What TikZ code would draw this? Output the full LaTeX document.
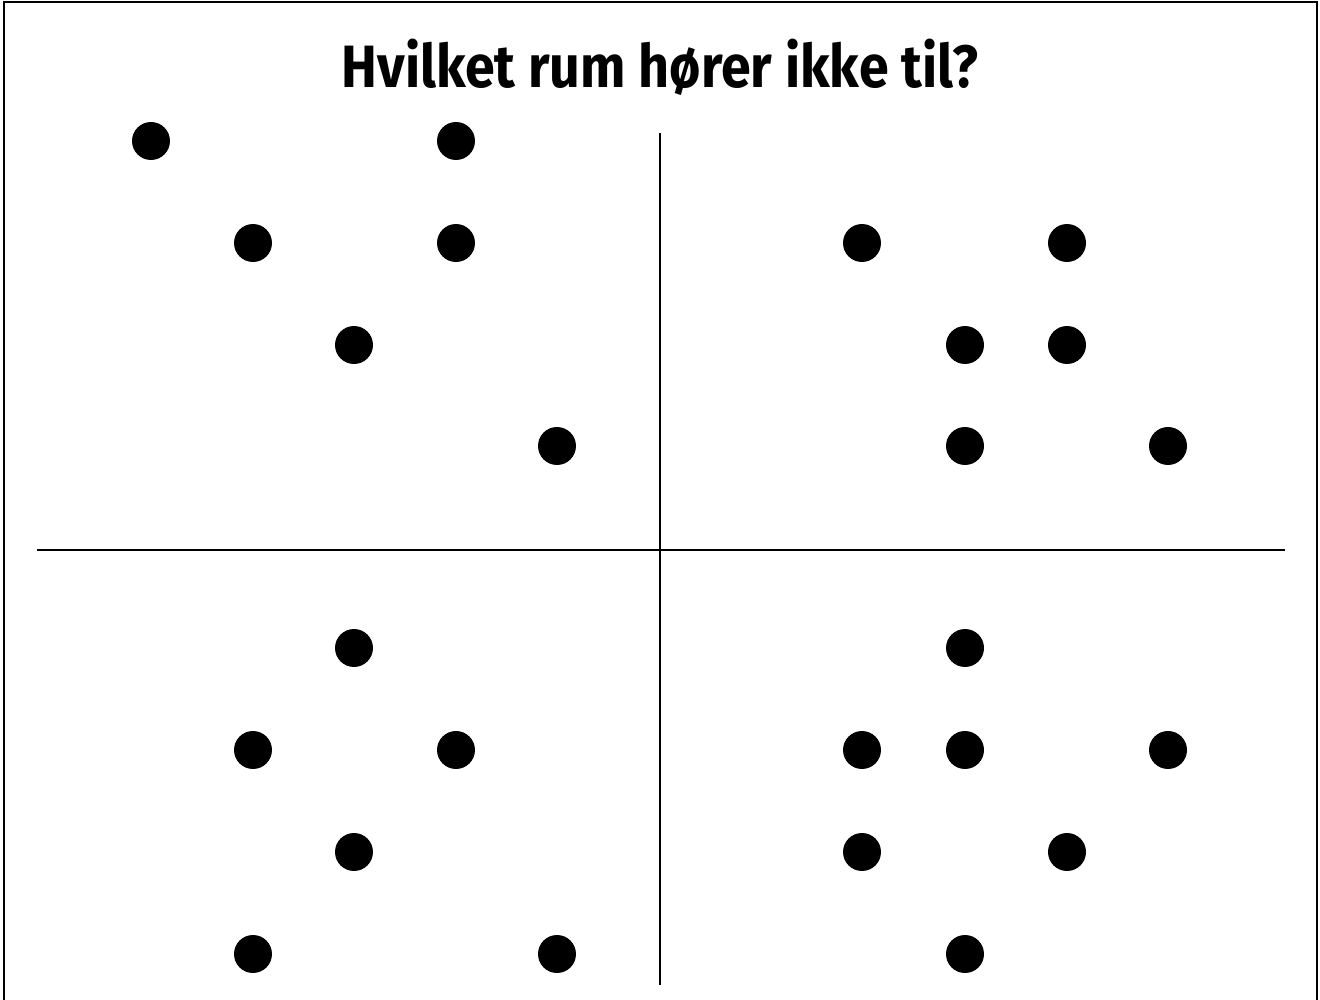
\documentclass[tikz,border=0pt]{standalone}
\usepackage{fontspec}
\setmainfont{Fira Sans}
\usetikzlibrary{positioning}

\tikzset{
  dot/.style={circle, fill=black, inner sep=0pt, minimum size=0.76cm},
  rule/.style={line width=1.2pt, black}
}

\begin{document}
\begin{tikzpicture}[x=0.02cm, y=-0.02cm]
\useasboundingbox (0,0) rectangle (1320,1000);

% frame, open at the bottom
\coordinate (fbl) at (4,1000);
\coordinate (ftl) at (4,2);
\coordinate (ftr) at (1317,2);
\coordinate (fbr) at (1317,1000);
\draw[rule] (fbl) -- (ftl) -- (ftr) -- (fbr);

\node[font=\bfseries\fontsize{34}{40}\selectfont, xscale=0.9, transform shape] (title) at (660,67) {Hvilket rum hører ikke til?};

% cross
\coordinate (vtop) at (660,133);
\coordinate (vbot) at (660,985);
\coordinate (hleft) at (37,550);
\coordinate (hright) at (1285,550);
\draw[rule] (vtop) -- (vbot);
\draw[rule] (hleft) -- (hright);

% top left room
\foreach \x/\y [count=\i] in {151/141, 456/141, 253/243, 456/243, 354/345, 557/446}
  \node[dot] (tl\i) at (\x,\y) {};

% top right room
\foreach \x/\y [count=\i] in {862/243, 1067/243, 965/345, 1067/345, 965/446, 1168/446}
  \node[dot] (tr\i) at (\x,\y) {};

% bottom left room
\foreach \x/\y [count=\i] in {354/648, 253/750, 456/750, 354/852, 253/954, 557/954}
  \node[dot] (bl\i) at (\x,\y) {};

% bottom right room
\foreach \x/\y [count=\i] in {965/648, 862/750, 965/750, 1168/750, 862/852, 1067/852, 965/954}
  \node[dot] (br\i) at (\x,\y) {};

\end{tikzpicture}
\end{document}
